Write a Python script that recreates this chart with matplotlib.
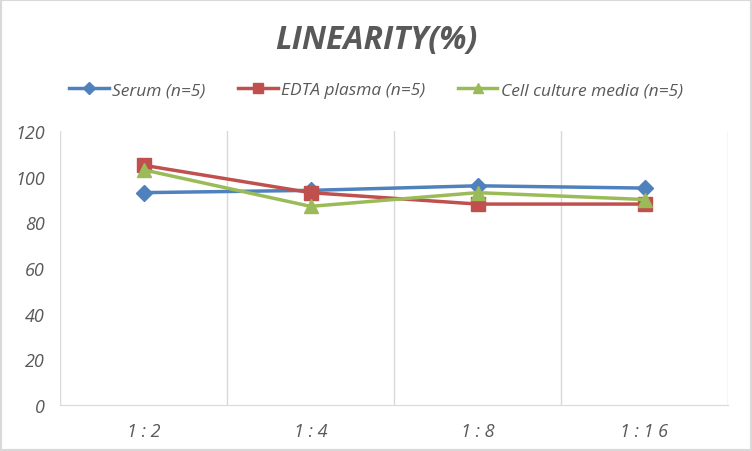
import matplotlib
matplotlib.use("Agg")
import matplotlib.pyplot as plt
from matplotlib.lines import Line2D

plt.rcParams['font.family'] = ['Open Sans', 'DejaVu Sans']

categories = ["1:2", "1:4", "1:8", "1:16"]
tick_labels = ["1 : 2", "1 : 4", "1 : 8", "1 : 1 6"]
serum = [93, 94, 96, 95]
edta = [105, 93, 88, 88]
cell = [103, 87, 93, 90]
series_names = ["Serum (n=5)", "EDTA plasma (n=5)", "Cell culture media (n=5)"]

colors = ["#4F81BD", "#C0504D", "#9BBB59"]
markers = ["D", "s", "^"]
msizes = [8, 10, 10]

fig = plt.figure(figsize=(7.52, 4.52), dpi=100)
ax = fig.add_axes([60/752, 1-406/452, (728-60)/752, (406-132)/452])

x = list(range(len(categories)))
for vals, c, m, ms, nm in zip([serum, edta, cell], colors, markers, msizes, series_names):
    ax.plot(x, vals, color=c, marker=m, markersize=ms, linewidth=2.5, label=nm)

ax.set_xlim(-0.5, len(categories) - 0.5)
ax.set_ylim(0, 120)
ax.set_yticks(range(0, 121, 20))
ax.set_xticks(x)
ax.set_xticklabels(tick_labels)
ax.set_xticks([i - 0.5 for i in range(len(categories) + 1)], minor=True)
ax.grid(True, which='minor', axis='x', color='#d9d9d9', linewidth=1)
ax.tick_params(which='both', length=0)
ax.tick_params(axis='y', labelsize=13, labelcolor='#595959', pad=11)
ax.tick_params(axis='x', labelsize=13, labelcolor='#595959', pad=12)
for lab in ax.get_xticklabels() + ax.get_yticklabels():
    lab.set_style('italic')
for s in ['top', 'right', 'left']:
    ax.spines[s].set_visible(False)
ax.spines['bottom'].set_color('#d9d9d9')

fig.text(0.5, 1-41/452, "LINEARITY(%)", ha='center', va='center', fontsize=23,
         fontweight='bold', style='italic', color='#595959')

handles = [Line2D([0], [0], color=c, marker=m, markersize=ms*0.75, linewidth=2.5)
           for c, m, ms in zip(colors, markers, msizes)]
fig.legend(handles, series_names, loc='center', bbox_to_anchor=(0.5, 1-91/452), ncol=3,
           frameon=False, handlelength=2.3, handletextpad=0.2, columnspacing=1.85,
           prop={'size': 12.5, 'style': 'italic'}, labelcolor='#595959')

border = plt.Rectangle((0, 0), 1, 1, transform=fig.transFigure, fill=False,
                       edgecolor='#d9d9d9', linewidth=3)
fig.patches.append(border)

fig.savefig("out.png", dpi=100)
